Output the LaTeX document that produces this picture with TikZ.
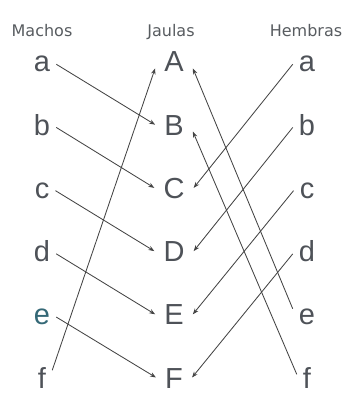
\documentclass[tikz,border=0pt]{standalone}
\usepackage{fontspec}
\setmainfont{Liberation Sans}
\newfontfamily\headfont{DejaVu Sans}
\usetikzlibrary{arrows.meta}
\definecolor{lettergray}{RGB}{78,82,88}
\definecolor{headgray}{RGB}{88,92,96}
\definecolor{eteal}{RGB}{52,104,118}
\definecolor{linegray}{RGB}{68,68,68}

\begin{document}
\begin{tikzpicture}[x=1pt,y=-1pt,
    head/.style={anchor=base, inner sep=0pt, text=headgray, font=\headfont\fontsize{16}{18}\selectfont},
    smallbox/.style={anchor=base, inner ysep=2pt, inner xsep=6pt, text height=15.5pt, text depth=0pt, text=lettergray, font=\fontsize{29}{34}\selectfont},
    capbox/.style={anchor=base, inner ysep=2pt, inner xsep=9pt, text height=21pt, text depth=0pt, text=lettergray, font=\fontsize{29}{34}\selectfont},
    pair/.style={-{Stealth[length=6pt,width=4.5pt]}, line width=0.85pt, linegray}]
  \useasboundingbox (0,0) rectangle (350,393);

  %% Headings
  \node[head] (hmachos)  at (42,37)  {Machos};
  \node[head] (hjaulas)  at (171,37) {Jaulas};
  \node[head] (hhembras) at (306,37) {Hembras};

  %% Machos
  \node[smallbox] (ma) at (42,72)    {a};
  \node[smallbox] (mb) at (42,135.2) {b};
  \node[smallbox] (mc) at (42,198.4) {c};
  \node[smallbox] (md) at (42,261.6) {d};
  \node[smallbox, text=eteal] (me) at (42,324.8) {e};
  \node[smallbox] (mf) at (42,388)   {f};

  %% Jaulas
  \node[capbox] (A) at (174,72)    {A};
  \node[capbox] (B) at (174,135.2) {B};
  \node[capbox] (C) at (174,198.4) {C};
  \node[capbox] (D) at (174,261.6) {D};
  \node[capbox] (E) at (174,324.8) {E};
  \node[capbox] (F) at (174,388)   {F};

  %% Hembras
  \node[smallbox] (ha) at (307,72)    {a};
  \node[smallbox] (hb) at (307,135.2) {b};
  \node[smallbox] (hc) at (307,198.4) {c};
  \node[smallbox] (hd) at (307,261.6) {d};
  \node[smallbox] (he) at (307,324.8) {e};
  \node[smallbox] (hf) at (307,388)   {f};

  %% Machos -> Jaulas
  \draw[pair] (ma.east) -- (B.west);
  \draw[pair] (mb.east) -- (C.west);
  \draw[pair] (mc.east) -- (D.west);
  \draw[pair] (md.east) -- (E.west);
  \draw[pair] (me.east) -- (F.west);
  \draw[pair] (mf.north east) -- (A.200);

  %% Hembras -> Jaulas
  \draw[pair] (ha.west) -- (C.east);
  \draw[pair] (hb.west) -- (D.east);
  \draw[pair] (hc.west) -- (E.east);
  \draw[pair] (hd.west) -- (F.east);
  \draw[pair] (he.150) -- (A.-20);
  \draw[pair] (hf.150) -- (B.-20);
\end{tikzpicture}
\end{document}
